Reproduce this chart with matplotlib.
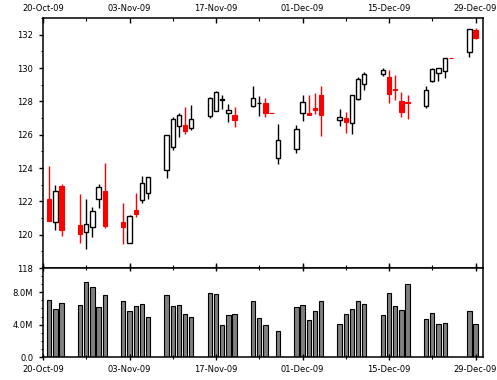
import matplotlib
matplotlib.use('Agg')
import matplotlib.pyplot as plt
import matplotlib.dates as mdates
from matplotlib.ticker import MultipleLocator, FuncFormatter
import pandas as pd

# Trading days (holidays 26-Nov and 25-Dec appear as flat candles, no volume)
dates = ['2009-10-21', '2009-10-22', '2009-10-23', '2009-10-26', '2009-10-27',
         '2009-10-28', '2009-10-29', '2009-10-30', '2009-11-02', '2009-11-03',
         '2009-11-04', '2009-11-05', '2009-11-06', '2009-11-09', '2009-11-10',
         '2009-11-11', '2009-11-12', '2009-11-13', '2009-11-16', '2009-11-17',
         '2009-11-18', '2009-11-19', '2009-11-20', '2009-11-23', '2009-11-24',
         '2009-11-25', '2009-11-26', '2009-11-27', '2009-11-30', '2009-12-01',
         '2009-12-02', '2009-12-03', '2009-12-04', '2009-12-07', '2009-12-08',
         '2009-12-09', '2009-12-10', '2009-12-11', '2009-12-14', '2009-12-15',
         '2009-12-16', '2009-12-17', '2009-12-18', '2009-12-21', '2009-12-22',
         '2009-12-23', '2009-12-24', '2009-12-25', '2009-12-28', '2009-12-29']

opens = [122.14, 120.74, 122.92, 120.58, 120.14, 120.44, 122.13, 122.62, 120.76, 119.48,
         121.50, 122.08, 122.49, 123.90, 125.29, 126.51, 126.59, 126.41, 127.15, 127.43,
         128.10, 127.29, 127.19, 127.71, 127.88, 127.89, 127.32, 124.59, 125.13, 127.29,
         127.31, 127.61, 128.41, 126.87, 127.01, 126.69, 128.13, 129.03, 129.63, 129.47,
         128.75, 128.03, 127.99, 127.75, 129.23, 129.69, 129.85, 130.60, 130.99, 132.28]
highs = [124.13, 122.98, 123.04, 122.44, 122.13, 121.65, 123.06, 124.32, 121.90, 121.18,
         122.50, 123.53, 123.45, 125.99, 127.09, 127.29, 127.69, 127.79, 128.25, 128.65,
         128.37, 127.85, 127.65, 128.95, 128.31, 128.19, 127.32, 126.63, 126.57, 128.41,
         128.41, 128.51, 128.95, 127.55, 127.37, 128.39, 129.47, 129.77, 130.01, 129.89,
         129.59, 128.57, 128.37, 128.91, 130.01, 129.99, 130.59, 130.60, 132.34, 132.41]
lows = [120.80, 120.28, 119.94, 119.52, 119.12, 119.84, 121.59, 120.42, 119.44, 119.48,
        121.08, 121.92, 122.16, 123.42, 125.09, 125.89, 126.05, 126.27, 126.99, 127.40,
        127.53, 126.75, 126.45, 127.69, 127.13, 127.05, 127.30, 124.23, 124.89, 126.85,
        127.17, 127.23, 125.93, 126.55, 126.13, 126.07, 128.09, 128.69, 129.55, 127.93,
        128.09, 127.09, 126.97, 127.63, 129.17, 129.23, 129.41, 130.59, 130.69, 131.75]
closes = [120.82, 122.64, 120.30, 120.06, 120.62, 121.44, 122.85, 120.54, 120.48, 121.12,
          121.26, 123.09, 123.45, 125.99, 126.93, 127.17, 126.25, 126.97, 128.19, 128.57,
          128.12, 127.51, 126.89, 128.19, 127.90, 127.31, 127.30, 125.67, 126.33, 127.95,
          127.17, 127.49, 127.21, 127.05, 126.79, 128.39, 129.33, 129.67, 129.91, 128.47,
          128.71, 127.39, 127.89, 128.67, 129.93, 129.99, 130.59, 130.59, 132.34, 131.83]
# volume in millions
volumes = [7.09, 5.98, 6.72, 6.47, 9.32, 8.70, 6.23, 7.71, 6.97, 5.73,
           6.35, 6.60, 4.99, 7.71, 6.35, 6.47, 5.36, 4.99, 7.96, 7.84,
           4.00, 5.24, 5.36, 6.97, 4.87, 4.00, 0.0, 3.26, 6.23, 6.47,
           4.62, 5.73, 6.97, 4.12, 5.36, 5.98, 6.97, 6.60, 5.24, 7.96,
           6.35, 5.86, 9.07, 4.74, 5.48, 4.12, 4.25, 0.0, 5.73, 4.12]

x = mdates.date2num(pd.to_datetime(dates).to_pydatetime())

fig = plt.figure(figsize=(4.97, 3.80), dpi=100)
ax = fig.add_axes([0.0865, 0.2947, 0.8853, 0.6579])
axv = fig.add_axes([0.0865, 0.0605, 0.8853, 0.2342], sharex=ax)

w = 0.7
for xi, o, h, l, c in zip(x, opens, highs, lows, closes):
    down = c < o
    col = 'red' if down else 'black'
    ax.vlines(xi, l, h, color=col, lw=1.0, zorder=2)
    if down:
        ax.bar(xi, o - c, bottom=c, width=w, color='red', edgecolor='red', lw=0.8, zorder=3)
    else:
        ax.bar(xi, c - o, bottom=o, width=w, color='white', edgecolor='black', lw=1.0, zorder=3)

axv.bar(x, volumes, width=w, color='#808080', edgecolor='black', lw=0.8)

# shared date axis
start = mdates.date2num(pd.Timestamp('2009-10-20'))
major = mdates.date2num(pd.date_range('2009-10-20', periods=6, freq='14D').to_pydatetime())
minor = mdates.date2num(pd.date_range('2009-10-20', periods=11, freq='7D').to_pydatetime())
ax.set_xlim(start, start + 71.2)
ax.set_xticks(major)
ax.set_xticks(minor, minor=True)
ax.xaxis.set_major_formatter(mdates.DateFormatter('%d-%b-%y'))

ax.set_ylim(118, 133)
ax.yaxis.set_major_locator(MultipleLocator(2))
ax.yaxis.set_minor_locator(MultipleLocator(1))
axv.set_ylim(0, 11)
axv.yaxis.set_major_locator(MultipleLocator(4))
axv.yaxis.set_minor_locator(MultipleLocator(1))
axv.yaxis.set_major_formatter(FuncFormatter(lambda v, p: '0.0' if v == 0 else '%.1fM' % v))

fs = 6
ax.tick_params(axis='x', which='both', direction='in', top=True, bottom=True,
               labeltop=True, labelbottom=False, labelsize=fs, pad=3.5)
ax.tick_params(axis='x', which='major', length=3.5, width=1)
ax.tick_params(axis='x', which='minor', length=2, width=0.8)
axv.tick_params(axis='x', which='both', direction='inout', top=True, bottom=True,
                labelbottom=True, labeltop=False, labelsize=fs, pad=4)
axv.tick_params(axis='x', which='major', length=4, width=1)
axv.tick_params(axis='x', which='minor', length=3, width=0.8)
for a in (ax, axv):
    a.tick_params(axis='y', which='both', direction='out', labelsize=fs, pad=4)
    a.tick_params(axis='y', which='major', length=3, width=1)
    a.tick_params(axis='y', which='minor', length=1.8, width=0.8)
    for s in a.spines.values():
        s.set_linewidth(1.1)
    a.set_facecolor('white')

fig.savefig('out.png', dpi=100)
